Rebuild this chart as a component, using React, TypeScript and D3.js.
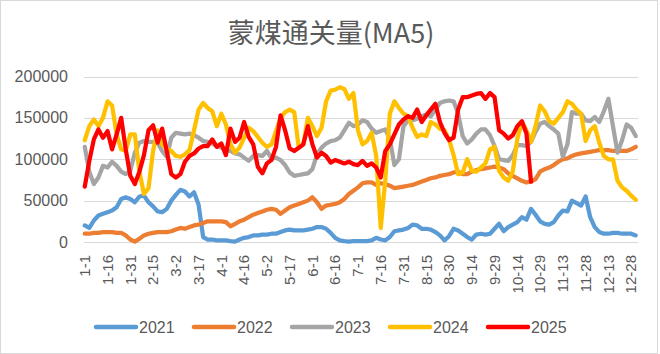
import React, { useEffect, useRef } from "react";
import * as d3 from "d3";

const tickLabels = ["1-1", "1-16", "1-31", "2-15", "3-2", "3-17", "4-1", "4-16", "5-2", "5-17", "6-1", "6-16", "7-1",
  "7-16", "7-31", "8-15", "8-30", "9-14", "9-29", "10-14", "10-29", "11-13", "11-28", "12-13", "12-28"];
const yTicks = [0, 50000, 100000, 150000, 200000];
const dayCount = 365;
const sampleStep = 3;
const labelStep = 15;

const v2021 = [20000, 17000, 26000, 32000, 34000, 36000, 38000, 42000, 52000, 54000,
  52000, 48000, 55000, 56000, 48000, 43000, 37000, 36000, 40000, 50000,
  57000, 63000, 61000, 55000, 60000, 45000, 6000, 3000, 3000, 2000,
  2000, 2000, 1000, 500, 3000, 5000, 6000, 8000, 8000, 9000,
  9000, 10000, 10000, 12000, 14000, 15000, 14000, 14000, 14000, 15000,
  16000, 18000, 18000, 16000, 11000, 5000, 2000, 1000, 500, 1000,
  1000, 1000, 1000, 2000, 5000, 3000, 2000, 6000, 13000, 14000,
  15000, 17000, 21000, 20000, 16000, 16000, 15000, 12000, 8000, 2000,
  7000, 16000, 14000, 10000, 6000, 3000, 9000, 10000, 9000, 10000,
  16000, 22000, 13000, 18000, 21000, 24000, 30000, 27000, 40000, 33000,
  25000, 22000, 21000, 24000, 32000, 38000, 37000, 50000, 47000, 44000,
  55000, 30000, 18000, 12000, 10000, 10000, 11000, 11000, 10000, 10000,
  10000, 8000];
const v2022 = [10000, 10000, 11000, 11000, 12000, 12000, 12000, 11000, 11000, 8000,
  3000, 500, 4000, 8000, 10000, 11000, 12000, 12000, 12000, 13000,
  15000, 17000, 16000, 18000, 20000, 21000, 23000, 25000, 25000, 25000,
  25000, 24000, 19000, 22000, 25000, 27000, 30000, 33000, 35000, 37000,
  39000, 40000, 39000, 34000, 38000, 42000, 44000, 46000, 48000, 50000,
  54000, 48000, 40000, 44000, 45000, 46000, 48000, 52000, 58000, 62000,
  66000, 71000, 72000, 72000, 69000, 71000, 70000, 68000, 65000, 66000,
  67000, 68000, 69000, 71000, 73000, 75000, 77000, 78000, 80000, 81000,
  82000, 84000, 85000, 82000, 82000, 85000, 87000, 88000, 89000, 90000,
  91000, 90000, 88000, 83000, 80000, 77000, 74000, 72000, 73000, 76000,
  85000, 88000, 90000, 93000, 97000, 100000, 101000, 104000, 106000, 107000,
  108000, 109000, 110000, 111000, 111000, 111000, 110000, 110000, 110000, 110000,
  112000, 115000];
const v2023 = [115000, 85000, 70000, 78000, 92000, 90000, 97000, 92000, 85000, 82000,
  86000, 108000, 120000, 122000, 121000, 121000, 120000, 110000, 103000, 126000,
  132000, 131000, 130000, 131000, 129000, 126000, 122000, 121000, 119000, 116000,
  114000, 112000, 110000, 107000, 106000, 102000, 98000, 104000, 105000, 104000,
  110000, 101000, 102000, 99000, 93000, 84000, 80000, 81000, 82000, 83000,
  88000, 106000, 114000, 119000, 122000, 123000, 126000, 135000, 144000, 140000,
  142000, 147000, 145000, 137000, 132000, 134000, 136000, 125000, 93000, 100000,
  140000, 147000, 147000, 149000, 152000, 154000, 152000, 160000, 168000, 170000,
  171000, 170000, 155000, 128000, 119000, 124000, 131000, 136000, 136000, 129000,
  116000, 100000, 99000, 98000, 105000, 117000, 117000, 116000, 121000, 133000,
  143000, 145000, 140000, 136000, 131000, 103000, 118000, 157000, 155000, 155000,
  147000, 146000, 151000, 145000, 158000, 173000, 140000, 108000, 123000, 142000,
  138000, 128000];
const v2024 = [123000, 140000, 148000, 140000, 150000, 170000, 165000, 130000, 112000, 110000,
  130000, 130000, 85000, 58000, 65000, 110000, 135000, 118000, 113000, 110000,
  104000, 103000, 106000, 111000, 135000, 160000, 168000, 162000, 158000, 140000,
  155000, 142000, 118000, 108000, 114000, 126000, 138000, 134000, 127000, 120000,
  115000, 118000, 134000, 150000, 157000, 160000, 157000, 114000, 118000, 150000,
  140000, 128000, 138000, 170000, 183000, 184000, 187000, 185000, 173000, 180000,
  135000, 118000, 122000, 132000, 104000, 17000, 75000, 155000, 170000, 162000,
  155000, 152000, 138000, 127000, 130000, 128000, 145000, 142000, 137000, 135000,
  124000, 105000, 82000, 84000, 100000, 86000, 85000, 90000, 95000, 112000,
  115000, 86000, 78000, 74000, 85000, 125000, 145000, 135000, 121000, 140000,
  165000, 158000, 146000, 143000, 150000, 157000, 170000, 167000, 160000, 155000,
  122000, 135000, 140000, 120000, 104000, 100000, 100000, 74000, 66000, 62000,
  56000, 51000];
const v2025 = [67000, 98000, 124000, 136000, 126000, 134000, 112000, 130000, 150000, 112000,
  80000, 70000, 85000, 105000, 135000, 141000, 120000, 137000, 110000, 82000,
  78000, 82000, 97000, 104000, 107000, 113000, 116000, 116000, 124000, 115000,
  119000, 105000, 137000, 121000, 126000, 145000, 127000, 118000, 91000, 83000,
  95000, 99000, 115000, 153000, 135000, 113000, 110000, 114000, 118000, 140000,
  118000, 102000, 108000, 104000, 96000, 99000, 97000, 95000, 97000, 94000,
  93000, 98000, 92000, 95000, 90000, 78000, 110000, 118000, 130000, 142000,
  148000, 152000, 150000, 160000, 145000, 153000, 160000, 167000, 145000, 132000,
  123000, 126000, 160000, 175000, 175000, 177000, 179000, 180000, 173000, 180000,
  175000, 135000, 131000, 125000, 129000, 140000, 146000, 131000, 73000];

const series = [
  { name: "2021", color: "#5B9BD5", values: v2021 },
  { name: "2022", color: "#ED7D31", values: v2022 },
  { name: "2023", color: "#A5A5A5", values: v2023 },
  { name: "2024", color: "#FFC000", values: v2024 },
  { name: "2025", color: "#FF0000", values: v2025 },
];

const width = 660, height = 354;
const plot = { left: 84, right: 638, top: 76.5, bottom: 242 };
const textColor = "#595959";
const numFont = "'Liberation Sans', Arial, sans-serif";

export default function App() {
  const ref = useRef<SVGSVGElement>(null);

  useEffect(() => {
    const svg = d3.select(ref.current);

    const x = d3.scaleLinear().domain([0, dayCount]).range([plot.left, plot.right]);
    const y = d3.scaleLinear().domain([0, 200000]).range([plot.bottom, plot.top]);

    svg.selectAll(".frame").data([0]).join("rect").attr("class", "frame")
      .attr("x", 0.5).attr("y", 0.5).attr("width", width - 3).attr("height", height - 1)
      .attr("fill", "white").attr("stroke", "#d9d9d9");

    svg.selectAll(".title").data([0]).join("text").attr("class", "title")
      .attr("x", 331).attr("y", 43).attr("text-anchor", "middle")
      .attr("font-family", "'Noto Sans CJK SC', sans-serif").attr("font-size", 27).attr("fill", textColor)
      .text("蒙煤通关量(MA5)");

    svg.selectAll(".grid").data(yTicks).join("line").attr("class", "grid")
      .attr("x1", plot.left).attr("x2", plot.right)
      .attr("y1", (d) => Math.round(y(d)) + 0.5).attr("y2", (d) => Math.round(y(d)) + 0.5)
      .attr("stroke", "#d9d9d9").attr("stroke-width", 1);

    svg.selectAll(".ylab").data(yTicks).join("text").attr("class", "ylab")
      .attr("x", 68).attr("y", (d) => y(d)).attr("dy", "0.35em").attr("text-anchor", "end")
      .attr("font-family", numFont).attr("font-size", 16).attr("fill", textColor)
      .text((d) => String(d));

    svg.selectAll(".xlab").data(tickLabels).join("text").attr("class", "xlab")
      .attr("transform", (d, i) => `translate(${x(i * labelStep + 0.5)},255) rotate(-90)`)
      .attr("dy", "0.35em").attr("text-anchor", "end")
      .attr("font-family", numFont).attr("font-size", 15).attr("fill", textColor)
      .text((d) => d);

    const line = d3.line<number>()
      .x((d, i) => x(i * sampleStep + 0.5))
      .y((d) => y(d));

    svg.selectAll(".series").data(series).join("path").attr("class", "series")
      .attr("d", (s) => line(s.values))
      .attr("fill", "none").attr("stroke", (s) => s.color).attr("stroke-width", 4.25)
      .attr("stroke-linejoin", "round").attr("stroke-linecap", "round");

    const legend = svg.selectAll(".legend").data(series).join("g").attr("class", "legend")
      .attr("transform", (s, i) => `translate(${96 + i * 98},327)`);
    legend.selectAll("line").data((s) => [s]).join("line")
      .attr("x1", 0).attr("x2", 40).attr("y1", 0).attr("y2", 0)
      .attr("stroke", (s) => s.color).attr("stroke-width", 4.5).attr("stroke-linecap", "round");
    legend.selectAll("text").data((s) => [s]).join("text")
      .attr("x", 43).attr("y", 0).attr("dy", "0.35em")
      .attr("font-family", numFont).attr("font-size", 16).attr("fill", textColor)
      .text((s) => s.name);
  }, []);

  return (
    <svg ref={ref} width={width} height={height}
      style={{ position: "absolute", left: 0, top: 0, background: "white" }} />
  );
}
